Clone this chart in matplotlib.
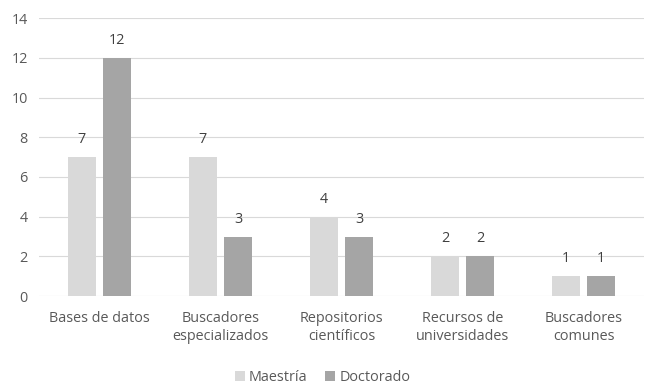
import numpy as np
import matplotlib.pyplot as plt

categories = ['Bases de datos', 'Buscadores\nespecializados', 'Repositorios\ncientíficos',
              'Recursos de\nuniversidades', 'Buscadores\ncomunes']
maestria = [7, 7, 4, 2, 1]
doctorado = [12, 3, 3, 2, 1]

plt.rcParams['font.family'] = ['Open Sans', 'DejaVu Sans']
txt = '#595959'

fig = plt.figure(figsize=(6.45, 3.85), dpi=100)
ax = fig.add_axes([0.0605, 0.231, 0.938, 0.722])

x = np.arange(len(categories))
w = 0.23
off = 0.145
b1 = ax.bar(x - off, maestria, w, color='#d9d9d9', label='Maestría', zorder=2)
b2 = ax.bar(x + off, doctorado, w, color='#a5a5a5', label='Doctorado', zorder=2)

for bars in (b1, b2):
    for r in bars:
        ax.text(r.get_x() + r.get_width() / 2, r.get_height() + 0.5, f'{int(r.get_height())}',
                ha='center', va='bottom', fontsize=10.4, color='#404040')

ax.set_xlim(-0.5, len(categories) - 0.5)
ax.set_ylim(0, 14)
ax.set_yticks(range(0, 15, 2))
ax.set_xticks(x)
ax.set_xticklabels(categories, fontsize=10.4, color=txt, linespacing=1.25)
ax.tick_params(axis='y', labelsize=10.4, labelcolor=txt, length=0, pad=8)
ax.tick_params(axis='x', length=0, pad=11)
ax.grid(axis='y', color='#d9d9d9', linewidth=0.8, zorder=0)
for s in ax.spines.values():
    s.set_visible(False)

fig.legend(loc='lower center', bbox_to_anchor=(0.5, -0.035), ncol=2, frameon=False,
           fontsize=10.4, labelcolor=txt, handlelength=0.7, handleheight=0.7,
           handletextpad=0.3, columnspacing=1.2)

fig.savefig('out.png', dpi=100)
